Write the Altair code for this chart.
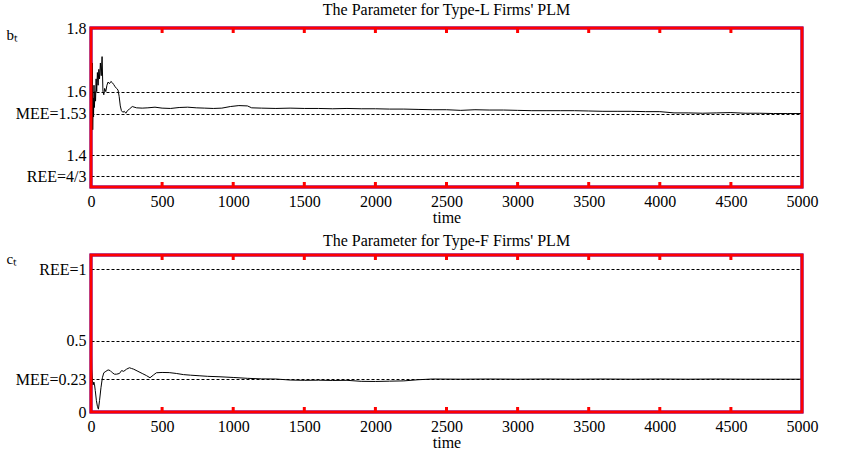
import altair as alt
import pandas as pd

# ---------------- data ----------------
t_L = [0, 3, 6, 9, 12, 15, 18, 21, 24, 28, 32, 36, 40, 45, 50, 55, 60, 66, 72, 78,
       84, 90, 96, 104, 112, 120, 130, 140, 150, 160, 170, 180, 190, 198, 206, 214,
       224, 234, 245, 256, 270, 290, 320, 360, 400, 450, 500, 560, 620, 680, 740,
       800, 860, 920, 980, 1040, 1100, 1130, 1200, 1300, 1400, 1500, 1600, 1700,
       1800, 1900, 2000, 2100, 2200, 2300, 2400, 2500, 2600, 2700, 2800, 2900,
       3000, 3100, 3200, 3300, 3400, 3500, 3600, 3700, 3800, 3900, 4000, 4100,
       4200, 4300, 4400, 4500, 4600, 4700, 4800, 4900, 5000]
b_L = [1.53, 1.68, 1.50, 1.69, 1.48, 1.58, 1.52, 1.62, 1.55, 1.60, 1.57, 1.64,
       1.60, 1.66, 1.62, 1.67, 1.64, 1.69, 1.65, 1.71, 1.60, 1.59, 1.61, 1.60,
       1.62, 1.63, 1.625, 1.632, 1.628, 1.622, 1.615, 1.61, 1.605, 1.585, 1.555,
       1.54, 1.535, 1.538, 1.532, 1.54, 1.545, 1.553, 1.549, 1.548, 1.549, 1.551,
       1.548, 1.547, 1.550, 1.551, 1.549, 1.548, 1.547, 1.548, 1.553, 1.556,
       1.555, 1.549, 1.548, 1.547, 1.548, 1.547, 1.547, 1.546, 1.547, 1.546,
       1.546, 1.545, 1.545, 1.544, 1.543, 1.543, 1.541, 1.543, 1.542, 1.542,
       1.541, 1.540, 1.540, 1.540, 1.540, 1.539, 1.538, 1.538, 1.538, 1.537,
       1.537, 1.533, 1.533, 1.532, 1.533, 1.534, 1.532, 1.532, 1.531, 1.531, 1.531]

t_F = [0, 2, 5, 10, 15, 20, 25, 30, 38, 45, 52, 60, 70, 80, 90, 105, 120, 135, 150,
       165, 180, 200, 215, 230, 250, 270, 285, 300, 330, 360, 390, 415, 440, 460,
       500, 550, 600, 650, 700, 760, 820, 900, 1000, 1100, 1200, 1300, 1400, 1500,
       1600, 1700, 1800, 1900, 2000, 2100, 2200, 2300, 2400, 2600, 2800, 3000,
       3200, 3400, 3600, 3800, 4000, 4200, 4400, 4600, 4800, 5000]
c_F = [0.74, 0.50, 0.30, 0.22, 0.19, 0.21, 0.19, 0.15, 0.08, 0.04, 0.02, 0.08,
       0.17, 0.24, 0.275, 0.285, 0.295, 0.29, 0.275, 0.265, 0.265, 0.27, 0.29,
       0.285, 0.30, 0.31, 0.305, 0.30, 0.285, 0.27, 0.255, 0.24, 0.26, 0.275,
       0.277, 0.276, 0.27, 0.262, 0.258, 0.254, 0.25, 0.247, 0.242, 0.236, 0.232,
       0.231, 0.224, 0.222, 0.223, 0.221, 0.222, 0.215, 0.214, 0.216, 0.218,
       0.226, 0.231, 0.230, 0.231, 0.230, 0.231, 0.230, 0.231, 0.230, 0.231,
       0.230, 0.231, 0.230, 0.230, 0.230]

x_ticks = [0, 500, 1000, 1500, 2000, 2500, 3000, 3500, 4000, 4500, 5000]
b_ticks = [4 / 3, 1.4, 1.53, 1.6, 1.8]
c_ticks = [0, 0.23, 0.5, 1]

FONT = "Liberation Serif"
W = 711
H1 = 159
H2 = 157


def panel(t, v, domain, ticks, label_expr, title, ylab, lab_y, H):
    df = pd.DataFrame({"t": t, "v": v})
    line = alt.Chart(df).mark_line(color="black", strokeWidth=1).encode(
        x=alt.X("t:Q", scale=alt.Scale(domain=[0, 5000], nice=False),
                axis=alt.Axis(values=x_ticks, format="d", title="time", grid=False,
                              ticks=False, domain=False, labelPadding=6,
                              labelFlush=False, titlePadding=0, labelFont=FONT,
                              labelFontSize=16, labelColor="black",
                              titleFont=FONT, titleFontSize=16,
                              titleFontWeight="normal", titleColor="black")),
        y=alt.Y("v:Q", scale=alt.Scale(domain=domain, nice=False, zero=False),
                axis=alt.Axis(values=ticks, labelExpr=label_expr, title=ylab,
                              titleAngle=0, titleAlign="left",
                              titleBaseline="alphabetic", titleX=-85,
                              titleY=lab_y, titleFont=FONT, titleFontSize=15,
                              titleFontWeight="normal", titleColor="black",
                              grid=True, gridDash=[3, 2], gridColor="black",
                              gridOpacity=1, gridWidth=1, ticks=False,
                              domain=False, labelPadding=5, labelFont=FONT,
                              labelFontSize=16, labelColor="black")),
    )
    tk = pd.DataFrame({"t": x_ticks[1:-1]})
    bot_ticks = alt.Chart(tk).mark_rule(color="red", strokeWidth=3).encode(
        x="t:Q", y=alt.value(H), y2=alt.value(H - 5))
    top_ticks = alt.Chart(tk).mark_rule(color="red", strokeWidth=3).encode(
        x="t:Q", y=alt.value(0), y2=alt.value(5))
    frame = alt.Chart(pd.DataFrame({"k": [0]})).mark_rect(
        filled=False, stroke="red", strokeWidth=3
    ).encode(x=alt.value(0), x2=alt.value(W), y=alt.value(0), y2=alt.value(H))
    return alt.layer(line, bot_ticks, top_ticks, frame).properties(
        width=W, height=H,
        view=alt.ViewBackground(stroke="blue", strokeWidth=3),
        title=alt.TitleParams(title, font=FONT, fontSize=16, fontWeight="normal",
                              color="black", anchor="middle", offset=2),
    )


top = panel(t_L, b_L, [1.3, 1.8], b_ticks,
            "datum.value < 1.35 ? 'REE=4/3' : (abs(datum.value - 1.53) < 0.001 ? 'MEE=1.53' : format(datum.value, '.1f'))",
            "The Parameter for Type-L Firms' PLM", "b\u209c", 11, H1)
bottom = panel(t_F, c_F, [0, 1.1], c_ticks,
               "datum.value == 1 ? 'REE=1' : (abs(datum.value - 0.23) < 0.001 ? 'MEE=0.23' : (datum.value == 0 ? '0' : '0.5'))",
               "The Parameter for Type-F Firms' PLM", "c\u209c", 8, H2)

chart = alt.vconcat(top, bottom, spacing=68, bounds="flush").properties(
    padding={"left": 4, "top": 0, "right": 10, "bottom": 5},
    background="white",
).configure_view(stroke="green", strokeWidth=3)

chart.save("out.html", embed_options={"renderer": "svg", "actions": False})
